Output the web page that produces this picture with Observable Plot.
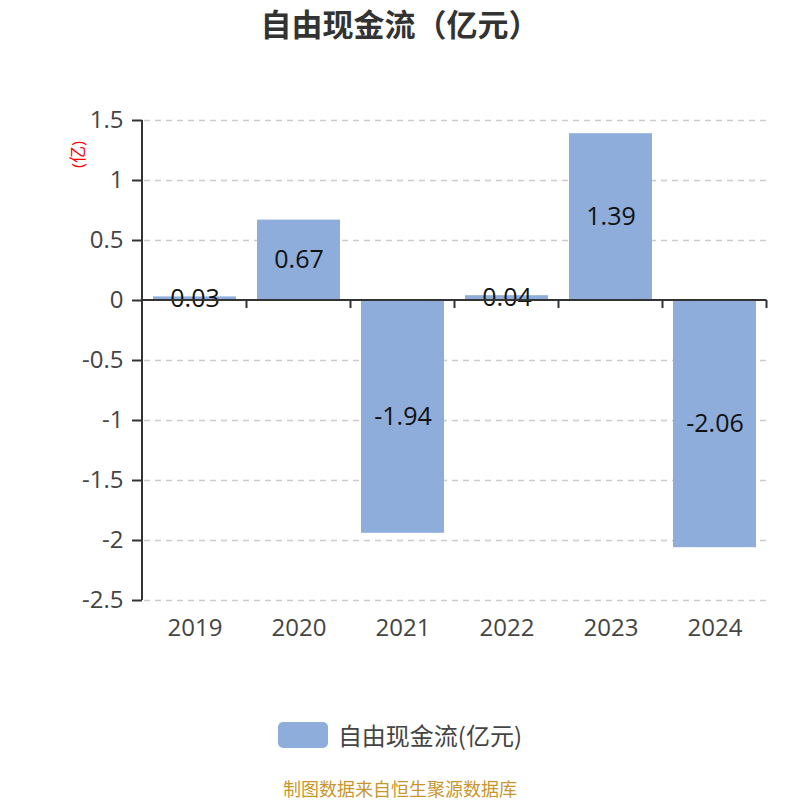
<!DOCTYPE html>
<html><head><meta charset="utf-8">
<script src="https://cdn.jsdelivr.net/npm/d3@7"></script>
<script src="https://cdn.jsdelivr.net/npm/@observablehq/plot@0.6"></script>
<style>
body{margin:0;background:#fff;font-family:"Open Sans","Noto Sans CJK SC",sans-serif;}
#wrap{position:relative;width:800px;height:800px;overflow:hidden;}
#title{position:absolute;top:0px;left:0;width:800px;text-align:center;font-size:31px;line-height:46px;font-weight:bold;color:#333;font-family:"Noto Sans CJK SC",sans-serif;}
#chart{position:absolute;top:50px;left:0;}
#legend{position:absolute;top:718px;left:0;width:800px;display:flex;justify-content:center;align-items:center;font-size:24px;line-height:34px;color:#444;font-family:"Noto Sans CJK SC",sans-serif;}
#legend .sw{width:50px;height:26px;border-radius:5px;background:#8eaddb;margin-right:10px;}
#caption{position:absolute;top:776px;left:0;width:800px;text-align:center;font-size:18px;line-height:24px;color:#c8962e;font-family:"Noto Sans CJK SC",sans-serif;}
</style></head>
<body>
<div id="wrap">
<div id="title">自由现金流（亿元）</div>
<div id="chart"></div>
<div id="legend"><div class="sw"></div><span>自由现金流(亿元)</span></div>
<div id="caption">制图数据来自恒生聚源数据库</div>
</div>
<script>
const years = ["2019","2020","2021","2022","2023","2024"];
const values = [0.03, 0.67, -1.94, 0.04, 1.39, -2.06];
const yTicks = [1.5, 1, 0.5, 0, -0.5, -1, -1.5, -2, -2.5];
const unitLabel = "(亿)";

const data = years.map((y, i) => ({year: y, value: values[i]}));

const axisLines = (index, scales, vals, dims, context) => {
  const x = scales.x, y = scales.y;
  const step = x.step(), bw = x.bandwidth();
  const g = d3.create("svg:g");
  const y0 = y(0);
  const firstX = x(years[0]) - (step - bw) / 2;
  const lastX = x(years[years.length-1]) + bw + (step - bw) / 2;
  const left = dims.marginLeft;
  g.append("line").attr("x1", left).attr("x2", left).attr("y1", y(yTicks[0])).attr("y2", y(yTicks[yTicks.length-1]))
    .attr("stroke", "#333").attr("stroke-width", 2);
  years.forEach(c => {
    const bx = x(c) + bw + (step - bw) / 2;
    g.append("line").attr("x1", bx).attr("x2", bx).attr("y1", y0).attr("y2", y0 + 8)
      .attr("stroke", "#333").attr("stroke-width", 2);
  });
  g.append("line").attr("x1", firstX).attr("x2", lastX).attr("y1", y0).attr("y2", y0)
    .attr("stroke", "#333").attr("stroke-width", 2);
  return g.node();
};

const chart = Plot.plot({
  width: 800,
  height: 630,
  marginLeft: 142,
  marginRight: 32,
  marginTop: 70,
  marginBottom: 80,
  style: {fontFamily: '"Open Sans","Noto Sans CJK SC",sans-serif', background: "#fff"},
  x: {domain: years, paddingInner: 0.2, paddingOuter: 0.1, axis: null},
  y: {domain: [-2.5, 1.5], axis: null},
  marks: [
    Plot.ruleY(yTicks.filter(t => t !== 0), {stroke: "#ccc", strokeWidth: 1.5, strokeDasharray: "6,5", insetLeft: 2}),
    Plot.barY(data, {x: "year", y: "value", fill: "#8eaddb"}),
    Plot.text(data, {x: "year", y: d => d.value / 2, text: d => d.value.toFixed(2), fontSize: 25, fill: "#111"}),
    Plot.axisY({ticks: yTicks, tickSize: 10, tickPadding: 9, fontSize: 24, color: "#444", stroke: "#333", strokeWidth: 2, strokeOpacity: 1, tickFormat: d => String(d), label: null}),
    axisLines,
    Plot.axisX({ticks: years, tickSize: 0, tickPadding: 18, fontSize: 24, color: "#444", anchor: "bottom", label: null}),
    Plot.text([unitLabel], {frameAnchor: "top-left", textAnchor: "middle", lineAnchor: "middle", dx: -64, dy: 34, rotate: -90, fill: "red", fontSize: 17})
  ]
});
document.getElementById("chart").appendChild(chart);
</script>
</body></html>
